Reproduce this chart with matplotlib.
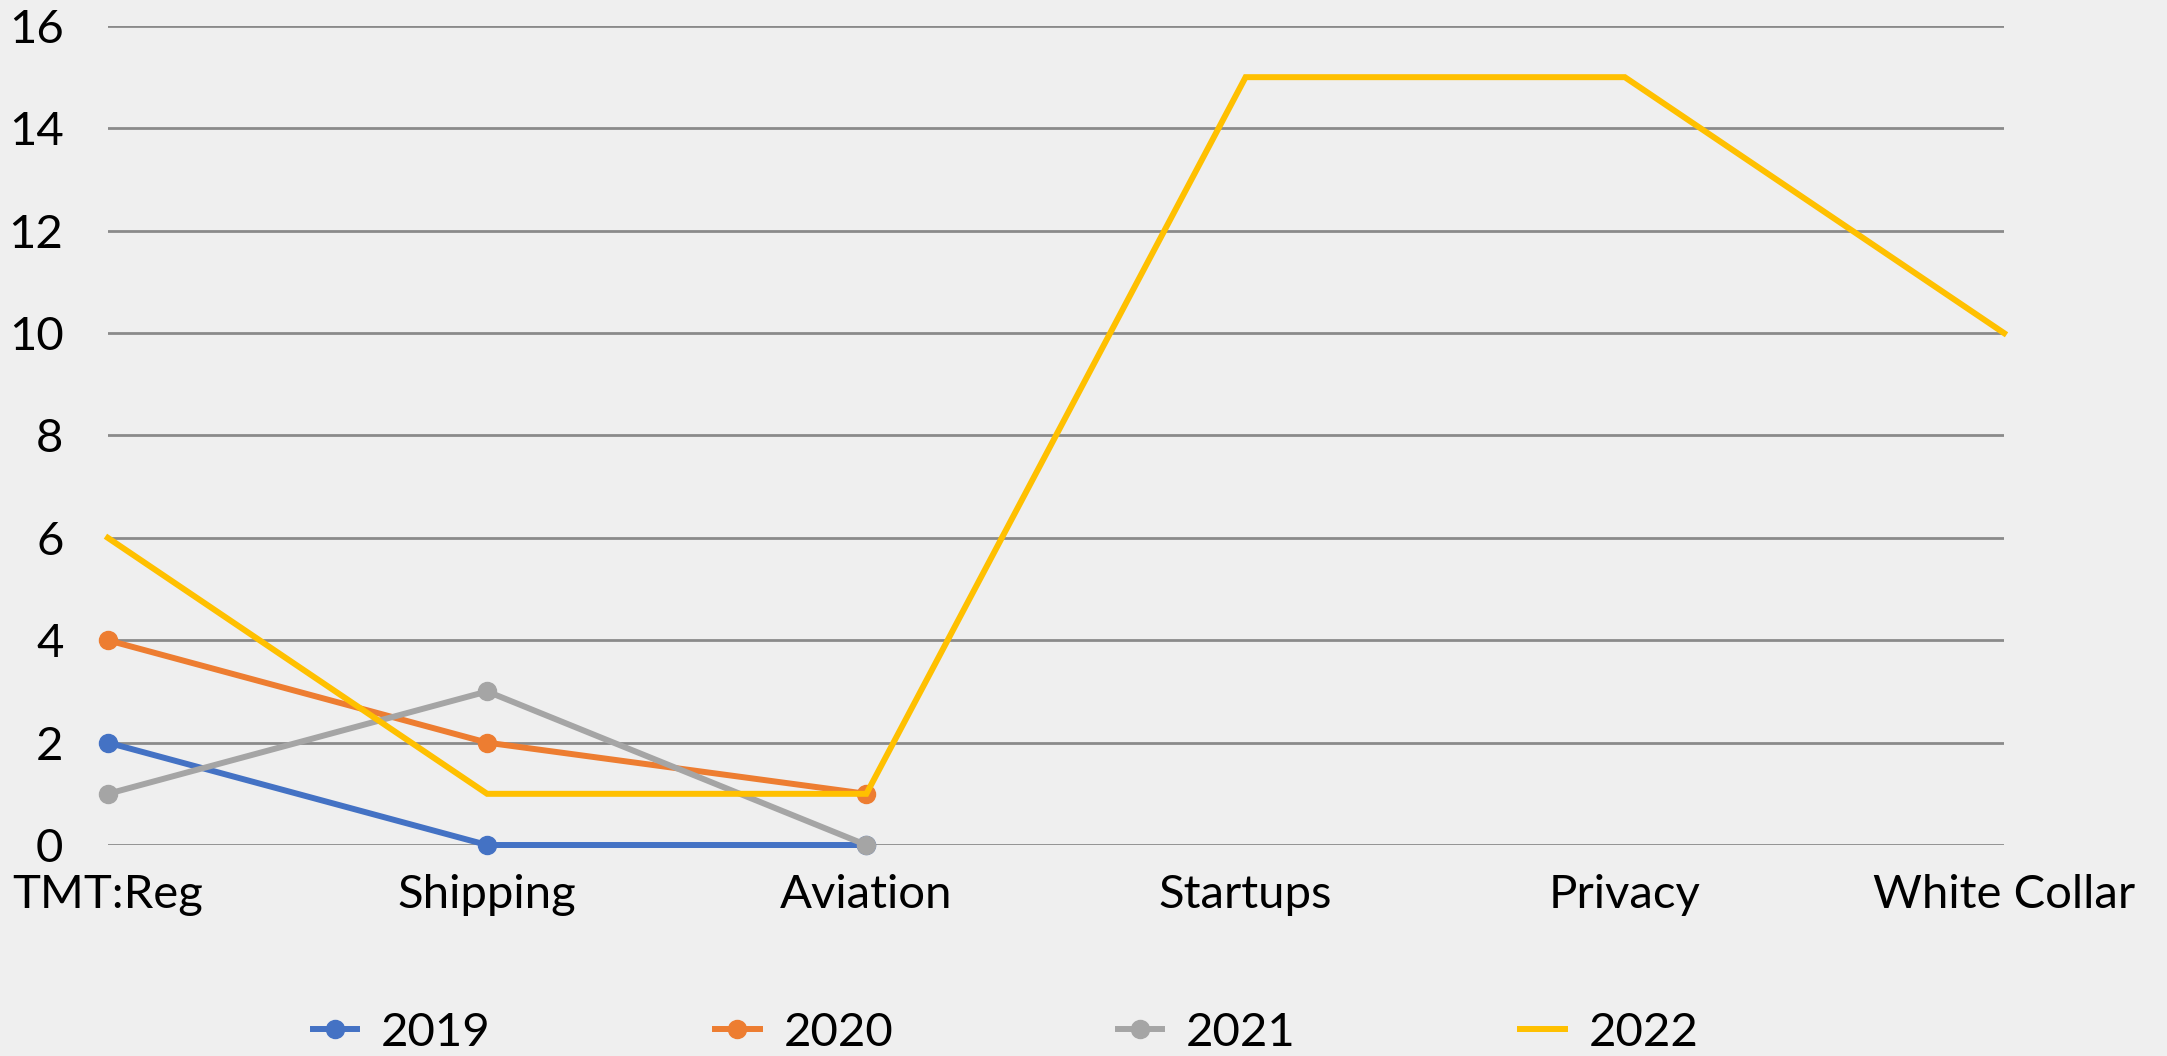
import matplotlib.pyplot as plt
import numpy as np

categories = ["TMT:Reg", "Shipping", "Aviation", "Startups", "Privacy", "White Collar"]
years = ["2019", "2020", "2021", "2022"]
v2019 = [2, 0, 0]
v2020 = [4, 2, 1]
v2021 = [1, 3, 0]
v2022 = [6, 1, 1, 15, 15, 10]
colors = ["#4472C4", "#ED7D31", "#A5A5A5", "#FFC000"]
y_ticks = [0, 2, 4, 6, 8, 10, 12, 14, 16]

plt.rcParams["font.family"] = ["Lato", "DejaVu Sans"]

fig = plt.figure(figsize=(21.67, 10.56), dpi=100, facecolor="#efefef")
ax = fig.add_axes([0.0498, 0.1998, 0.875, 0.7756])
ax.set_facecolor("none")

x = np.arange(len(categories))
series = [v2019, v2020, v2021, v2022]
for i, vals in enumerate(series):
    marker = "o" if i < 3 else None
    ax.plot(x[:len(vals)], vals, color=colors[i], lw=4.3, marker=marker,
            markersize=13, label=years[i], solid_joinstyle="miter",
            clip_on=False, zorder=3 + i)

ax.set_xlim(0, len(categories) - 1)
ax.set_ylim(0, 16)
ax.set_yticks(y_ticks)
ax.set_xticks(x)
ax.set_xticklabels(categories)
ax.grid(axis="y", color="#8a8a8a", lw=2)
ax.set_axisbelow(True)
for s in ax.spines.values():
    s.set_visible(False)
ax.tick_params(axis="y", length=0, pad=32, labelsize=34)
ax.tick_params(axis="x", length=0, pad=21, labelsize=34)

fig.legend(loc="center", bbox_to_anchor=(0.464, 0.022), ncol=4, frameon=False,
           fontsize=34, handlelength=0.95, handletextpad=0.5, columnspacing=4.75)

fig.savefig("out.png", dpi=100, facecolor=fig.get_facecolor())
